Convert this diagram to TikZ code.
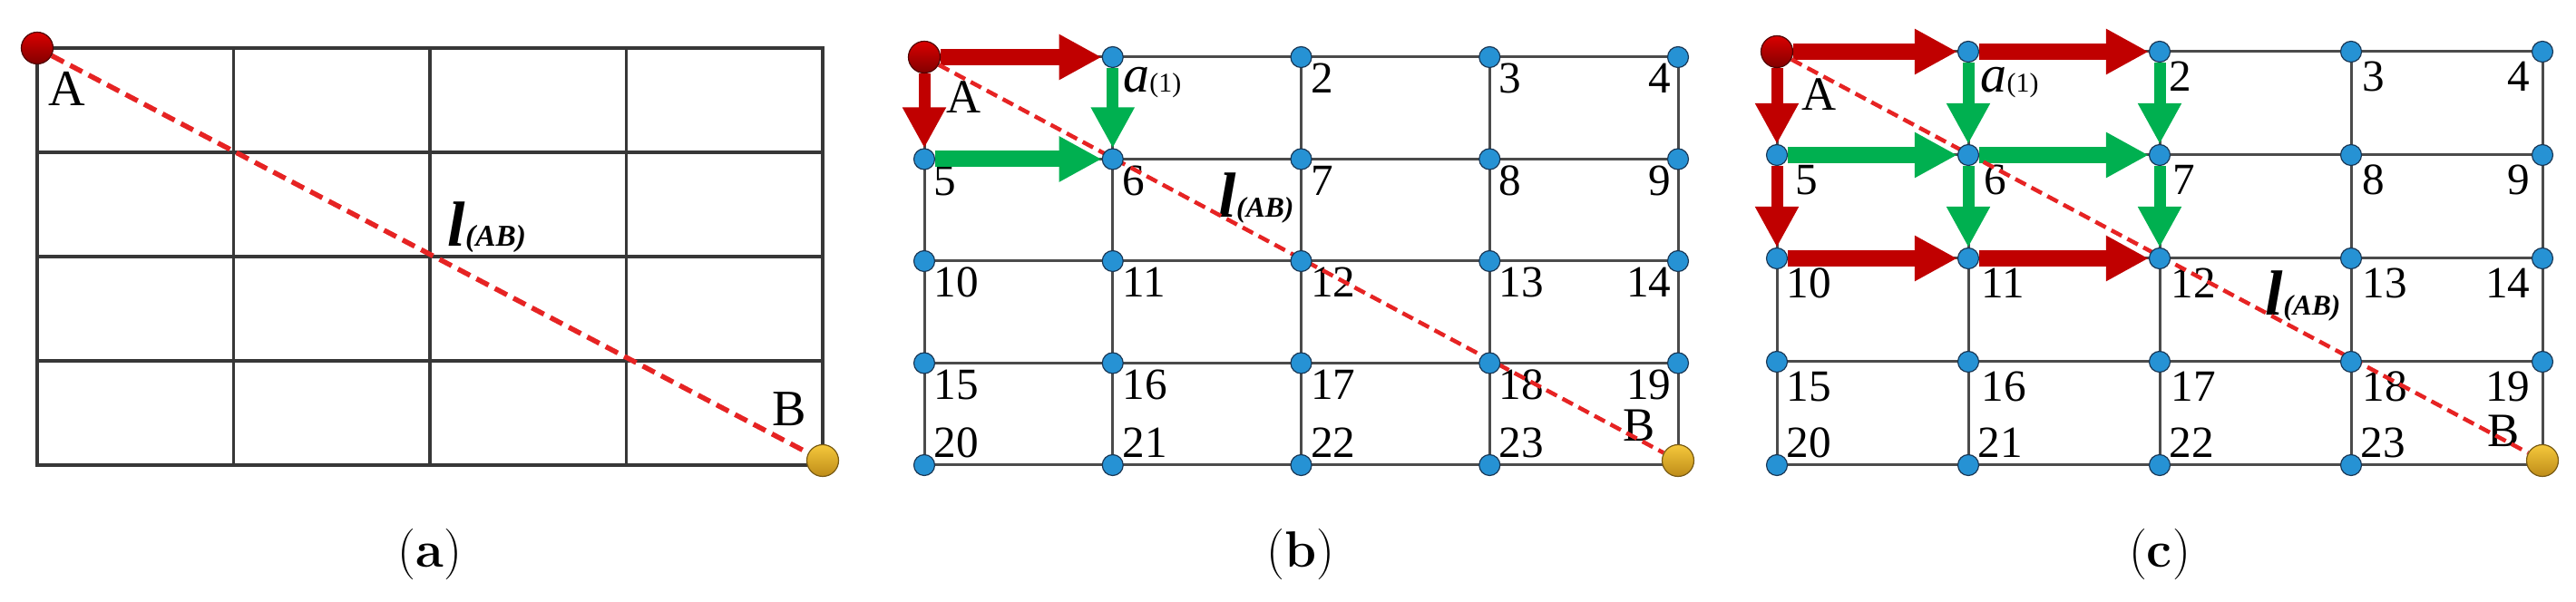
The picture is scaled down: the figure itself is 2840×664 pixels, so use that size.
\documentclass[tikz,border=0pt]{standalone}
\usepackage{fontspec}
\newfontfamily\tnr{Liberation Serif}
\usetikzlibrary{arrows.meta}
\pgfdeclarelayer{bg}
\pgfdeclarelayer{mid}
\pgfsetlayers{bg,mid,main}
\definecolor{gridc}{RGB}{55,55,55}
\definecolor{gridd}{RGB}{75,75,75}
\definecolor{dashred}{RGB}{230,35,35}
\definecolor{arrred}{RGB}{192,0,0}
\definecolor{arrgreen}{RGB}{0,176,80}
\definecolor{dotblue}{RGB}{38,146,212}
\definecolor{dotedge}{RGB}{25,55,85}
\definecolor{balltop}{RGB}{218,0,0}
\definecolor{ballbot}{RGB}{130,0,0}
\definecolor{balledge}{RGB}{80,0,0}
\definecolor{ytop}{RGB}{245,200,60}
\definecolor{ybot}{RGB}{190,140,25}
\definecolor{yedge}{RGB}{120,90,20}
\newcommand\lAB[2]{\tnr\bfseries\itshape\fontsize{#1}{#1}\selectfont l\fontsize{#2}{#2}\selectfont(AB)}
\newcommand\aone{\tnr\fontsize{16.5pt}{16.5pt}\selectfont\itshape a\upshape\fontsize{8.5pt}{8.5pt}\selectfont(1)}
\tikzset{
  gridA/.style={draw=gridc, line width=0.35mm},
  gridB/.style={draw=gridd, line width=0.3mm},
  bluedot/.style={circle, inner sep=0, minimum size=2.3mm, fill=dotblue, draw=dotedge, line width=0.12mm},
  startball/.style={circle, inner sep=0, minimum size=3.5mm, top color=balltop, bottom color=ballbot, draw=balledge, line width=0.12mm},
  endball/.style={circle, inner sep=0, minimum size=3.5mm, top color=ytop, bottom color=ybot, draw=yedge, line width=0.12mm},
  dashA/.style={draw=dashred, line width=0.55mm, dash pattern=on 1.5mm off 0.8mm},
  dashB/.style={draw=dashred, line width=0.45mm, dash pattern=on 1.3mm off 0.7mm},
  harr/.style={line width=1.8mm, -{Triangle[length=4.7mm,width=4.7mm]}},
  varr/.style={line width=1.3mm, -{Triangle[length=4.5mm,width=4.5mm]}},
  lblbig/.style={inner sep=0, font=\tnr\fontsize{16pt}{16pt}\selectfont},
  lblmid/.style={inner sep=0, font=\tnr\fontsize{15pt}{15pt}\selectfont},
  num/.style={inner sep=0, font=\tnr\fontsize{14pt}{14pt}\selectfont},
  captext/.style={inner sep=0, font=\fontsize{16pt}{16pt}\selectfont},
}
\begin{document}
\begin{tikzpicture}[x=0.1mm,y=-0.1mm]
\useasboundingbox (0,0) rectangle (2840,664);
% ---------- coordinates ----------
\foreach \i in {0,...,4}{\foreach \j in {0,...,4}{\coordinate (a-\i-\j) at ({41+216.5*\i},{53+115*\j});}}
\foreach \j in {0,...,4}{\foreach \i in {0,...,4}{%
  \pgfmathtruncatemacro\n{5*\j+\i}%
  \coordinate (b-\n) at ({1019+207.75*\i},{63+112.5*\j});%
  \coordinate (c-\n) at ({1959+211*\i},{57+114*\j});}}
% ---------- dots (main layer) ----------
\node[startball] (ad-A) at (a-0-0) {};
\node[endball] (ad-B) at ([shift={(0,-5)}]a-4-4) {};
\node[startball] (bd-0) at (b-0) {};
\node[startball] (cd-0) at (c-0) {};
\foreach \n in {1,...,23}{\node[bluedot] (bd-\n) at (b-\n) {}; \node[bluedot] (cd-\n) at (c-\n) {};}
\node[endball] (bd-24) at ([shift={(0,-5)}]b-24) {};
\node[endball] (cd-24) at ([shift={(0,-5)}]c-24) {};
% ---------- grids and labels ----------
\begin{pgfonlayer}{bg}
\draw[gridA] (a-0-0) rectangle (a-4-4);
\foreach \k in {1,...,3}{\draw[gridA] (a-0-\k) -- (a-4-\k); \draw[gridA] (a-\k-0) -- (a-\k-4);}
\foreach \k in {0,...,4}{%
  \pgfmathtruncatemacro\s{5*\k}\pgfmathtruncatemacro\e{5*\k+4}\pgfmathtruncatemacro\f{20+\k}%
  \draw[gridB] (b-\s) -- (b-\e); \draw[gridB] (b-\k) -- (b-\f);
  \draw[gridB] (c-\s) -- (c-\e); \draw[gridB] (c-\k) -- (c-\f);}
% panel a labels
\node[lblbig, anchor=base west] (a-lA) at ([shift={(12,64)}]a-0-0) {A};
\node[lblbig, anchor=base east] (a-lB) at ([shift={(-17,-43)}]a-4-4) {B};
\node[inner sep=0, anchor=base west] (a-ll) at (493,272) {\lAB{20pt}{9.5pt}};
% panel b labels
\node[lblmid, anchor=base west] (b-lA) at ([shift={(24,62)}]b-0) {A};
\node[lblmid, anchor=base east] (b-lB) at ([shift={(-25,-26)}]b-24) {B};
\node[inner sep=0, anchor=base west] (b-la) at ([shift={(11,39)}]b-1) {\aone};
\node[inner sep=0, anchor=base west] (b-ll) at (1343,240) {\lAB{20pt}{9pt}};
\foreach \n in {2,3,5,6,7,8,10,11,12,13,15,16,17,18}{\node[num, anchor=base west] (b-l\n) at ([shift={(10,40)}]b-\n) {\n};}
\foreach \n in {4,9,14,19}{\node[num, anchor=base east] (b-l\n) at ([shift={(-7,40)}]b-\n) {\n};}
\foreach \n in {20,21,22,23}{\node[num, anchor=base west] (b-l\n) at ([shift={(10,-8)}]b-\n) {\n};}
% panel c labels
\node[lblmid, anchor=base west] (c-lA) at ([shift={(27,65)}]c-0) {A};
\node[lblmid, anchor=base east] (c-lB) at ([shift={(-25,-20)}]c-24) {B};
\node[inner sep=0, anchor=base west] (c-la) at ([shift={(13,45)}]c-1) {\aone};
\node[inner sep=0, anchor=base west] (c-ll) at (2497,348) {\lAB{20pt}{9pt}};
\foreach \n/\dx in {2/10,3/12,5/20,6/17,7/14,8/12,10/10,11/14,12/12,13/12,15/10,16/14,17/12,18/12}{\node[num, anchor=base west] (c-l\n) at ([shift={(\dx,44)}]c-\n) {\n};}
\foreach \n in {4,9,14,19}{\node[num, anchor=base east] (c-l\n) at ([shift={(-13,44)}]c-\n) {\n};}
\foreach \n in {20,21,22,23}{\node[num, anchor=base west] (c-l\n) at ([shift={(10,-8)}]c-\n) {\n};}
% captions
\node[captext] (capa) at (474,611) {(\textbf{a})};
\node[captext] (capb) at (1434,611) {(\textbf{b})};
\node[captext] (capc) at (2381,611) {(\textbf{c})};
\end{pgfonlayer}
% ---------- arrows and dashed lines ----------
\begin{pgfonlayer}{mid}
% panel b
\draw[harr, arrred] (bd-0) -- (bd-1);
\draw[varr, arrred] (bd-0) -- (bd-5);
\draw[varr, arrgreen] (bd-1) -- (bd-6);
\draw[harr, arrgreen] (bd-5) -- (bd-6);
% panel c
\draw[harr, arrred] (cd-0) -- (cd-1);
\draw[harr, arrred] (cd-1) -- (cd-2);
\draw[varr, arrred] (cd-0) -- (cd-5);
\draw[varr, arrred] (cd-5) -- (cd-10);
\draw[harr, arrred] (cd-10) -- (cd-11);
\draw[harr, arrred] (cd-11) -- (cd-12);
\draw[varr, arrgreen] (cd-1) -- (cd-6);
\draw[varr, arrgreen] (cd-2) -- (cd-7);
\draw[harr, arrgreen] (cd-5) -- (cd-6);
\draw[harr, arrgreen] (cd-6) -- (cd-7);
\draw[varr, arrgreen] (cd-6) -- (cd-11);
\draw[varr, arrgreen] (cd-7) -- (cd-12);
% dashed diagonals
\draw[dashA] (ad-A) -- (ad-B);
\draw[dashB] (bd-0) -- (bd-24);
\draw[dashB] (cd-0) -- (cd-24);
\end{pgfonlayer}
\end{tikzpicture}
\end{document}
